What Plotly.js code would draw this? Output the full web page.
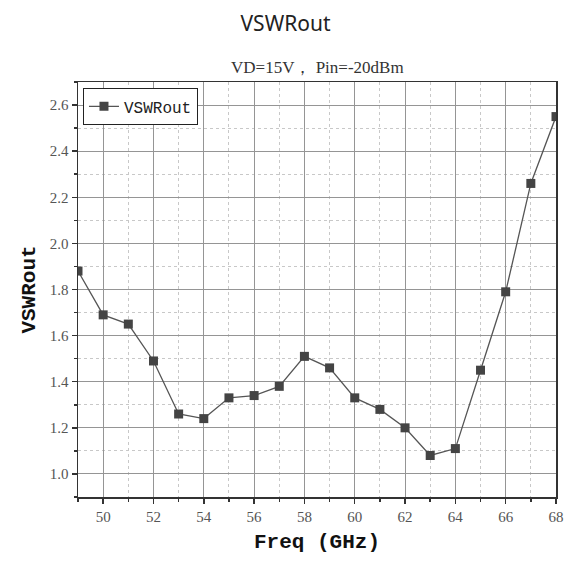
<!DOCTYPE html>
<html>
<head>
<meta charset="utf-8">
<script src="https://cdn.plot.ly/plotly-3.0.1.min.js"></script>
<style>html,body{margin:0;padding:0;background:#fff;}#chart{width:571px;height:565px;}</style>
</head>
<body>
<div id="chart"></div>
<script>
const freq = [49, 50, 51, 52, 53, 54, 55, 56, 57, 58, 59, 60, 61, 62, 63, 64, 65, 66, 67, 68];
const vswrOut = [1.88, 1.69, 1.65, 1.49, 1.26, 1.24, 1.33, 1.34, 1.38, 1.51, 1.46, 1.33, 1.28, 1.20, 1.08, 1.11, 1.45, 1.79, 2.26, 2.55];
const seriesName = "VSWRout";
const chartTitle = "VSWRout";
const subTitle = "VD=15V\uFF0C Pin=-20dBm";
const xTitle = "Freq (GHz)";
const yTitle = "VSWRout";

const serif = "Liberation Serif, DejaVu Serif, serif";
const mono = "Liberation Mono, DejaVu Sans Mono, monospace";

const trace = {
  x: freq, y: vswrOut, name: seriesName, type: "scatter", mode: "lines+markers",
  line: {color: "#555555", width: 1.3},
  marker: {symbol: "square", size: 9, color: "#444444"}
};

const axisCommon = {
  showline: true, mirror: true, linecolor: "#333333", linewidth: 1.5,
  ticks: "outside", ticklen: 5, tickcolor: "#333333", tickwidth: 1.5,
  showgrid: true, gridcolor: "#959595", gridwidth: 1,
  zeroline: false,
  tickfont: {family: serif, size: 15, color: "#555555"}
};

const layout = {
  width: 571, height: 565,
  margin: {l: 78, r: 15, t: 82, b: 68},
  paper_bgcolor: "#ffffff", plot_bgcolor: "#ffffff",
  title: {text: chartTitle, x: 0.5, xanchor: "center", y: 0.958, yanchor: "middle",
          font: {family: "Noto Sans, sans-serif", size: 21, color: "#222222"}},
  showlegend: true,
  legend: {x: 0.01, y: 0.985, xanchor: "left", yanchor: "top",
           bgcolor: "#ffffff", bordercolor: "#222222", borderwidth: 1.2,
           font: {family: mono, size: 16, color: "#222222"}},
  xaxis: Object.assign({}, axisCommon, {
    range: [49, 68], tick0: 50, dtick: 2,
    minor: {dtick: 1, showgrid: true, gridcolor: "#c8c8c8", griddash: "dot", ticks: "outside", ticklen: 3, tickcolor: "#333333"},
    title: {text: xTitle, standoff: 10, font: {family: mono, size: 21, color: "#111111", weight: "bold"}}
  }),
  yaxis: Object.assign({}, axisCommon, {
    range: [0.9, 2.7], tick0: 1.0, dtick: 0.2, tickformat: ".1f",
    minor: {dtick: 0.1, showgrid: true, gridcolor: "#c8c8c8", griddash: "dot", ticks: "outside", ticklen: 3, tickcolor: "#333333"},
    title: {text: yTitle, standoff: 8, font: {family: mono, size: 21, color: "#111111", weight: "bold"}}
  }),
  annotations: [{
    text: subTitle, xref: "paper", yref: "paper", x: 0.5, y: 1.0, yshift: 15,
    xanchor: "center", yanchor: "middle", showarrow: false,
    font: {family: serif, size: 17, color: "#333333"}
  }]
};

Plotly.newPlot("chart", [trace], layout, {displayModeBar: false, staticPlot: true});
</script>
</body>
</html>
